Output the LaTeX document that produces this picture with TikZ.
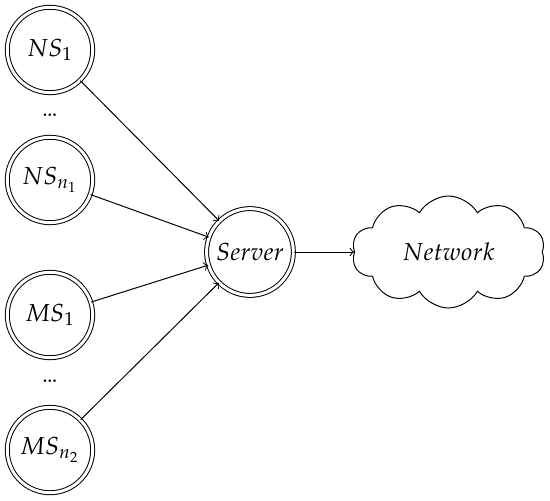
\documentclass[tikz,border=0pt]{standalone}
\usepackage{amsmath}
\usepackage{mathpazo}
\usepackage{tikz}
\usetikzlibrary{positioning}
\usetikzlibrary{shapes,arrows}
\tikzstyle{station} = [circle, draw, double, double distance=1.2pt,
    minimum size=1.22cm, inner sep=0pt]
\tikzstyle{server} = [circle, draw, double, double distance=1.2pt,
    minimum size=1.24cm, inner sep=0pt]
\tikzstyle{net} = [cloud, draw, cloud puffs=10, cloud puff arc=120,
    aspect=2, minimum width=2.76cm, minimum height=1.6cm, inner sep=0pt]
\tikzstyle{line} = [draw, ->]

\begin{document}
\begin{tikzpicture}[node distance = 2cm, auto]
        \useasboundingbox (0,0) rectangle (7.857,-7.143);
            % Nodes
        \node [server] (server) at (3.571,-3.6) {$Server$};
        \node [net, right = 0.86cm of server] (net) {$Network$};
        \node [station] (ns1) at (0.714,-0.714) {$NS_1$};
        \node [station] (nsn) at (0.714,-2.571) {$NS_{n_1}$};
        \node [station] (ms1) at (0.714,-4.5) {$MS_1$};
        \node [station] (msn) at (0.714,-6.429) {$MS_{n_2}$};
        \node (dots1) at (0.714,-1.65) {\dots};
        \node (dots2) at (0.714,-5.45) {\dots};
            % Edges
        \path [line] (ns1) -- (server);
        \path [line] (nsn) -- (server);
        \path [line] (ms1) -- (server);
        \path [line] (msn) -- (server);
        \path [line] (server) -- (net);
    \end{tikzpicture}
\end{document}
